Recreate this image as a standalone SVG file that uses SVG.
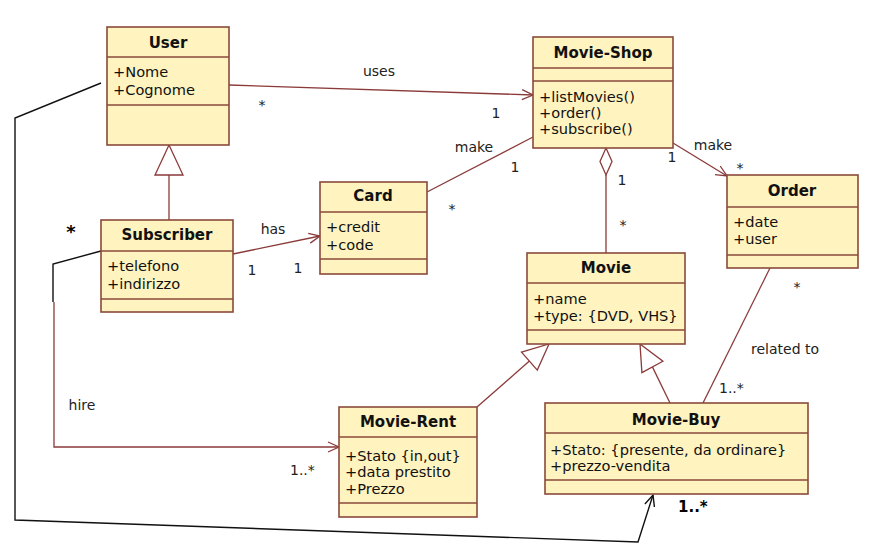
<svg xmlns="http://www.w3.org/2000/svg" width="879" height="544" viewBox="0 0 879 544">
<style>
.box{fill:#fff3c0;stroke:#8a4a3a;stroke-width:1.6}
.sep{stroke:#8a4a3a;stroke-width:1.6}
.title{font-family:"DejaVu Sans",sans-serif;font-weight:bold;font-size:15px;fill:#111;text-anchor:middle}
.attr{font-family:"DejaVu Sans",sans-serif;font-size:14.6px;fill:#111}
.lbl{font-family:"DejaVu Sans",sans-serif;font-size:14px;fill:#222}
.mid{text-anchor:middle}
.conn{fill:none;stroke:#8b3a3a;stroke-width:1.3}
.blk{fill:none;stroke:#111;stroke-width:1.4}
.hollow{fill:#fff;stroke:#8b3a3a;stroke-width:1.3}
</style>
<defs>
<marker id="open" markerUnits="userSpaceOnUse" markerWidth="14" markerHeight="12" refX="12" refY="6" orient="auto">
<path d="M1,1 L12,6 L1,11" fill="none" stroke="#8b3a3a" stroke-width="1.3"/>
</marker>
<marker id="openblk" markerUnits="userSpaceOnUse" markerWidth="14" markerHeight="12" refX="12" refY="6" orient="auto">
<path d="M1,1 L12,6 L1,11" fill="none" stroke="#111" stroke-width="1.4"/>
</marker>
</defs>
<rect width="879" height="544" fill="#fff"/>

<g id="connectors">
<path class="conn" d="M229,85 L533,95" marker-end="url(#open)"/>
<path class="conn" d="M427,192 L533,137"/>
<path class="conn" d="M673,143 L727,176" marker-end="url(#open)"/>
<path class="conn" d="M606,175 L606,253"/>
<path class="hollow" d="M606,148 L612,161.5 L606,175 L600,161.5 Z"/>
<path class="conn" d="M233,254 L320,236" marker-end="url(#open)"/>
<path class="conn" d="M169,220 L169,175"/>
<path class="hollow" d="M169,145 L183,175 L155,175 Z"/>
<path class="conn" d="M477,407 L529.4,361.1"/>
<path class="hollow" d="M549,344 L537.3,370.1 L521.5,352.1 Z"/>
<path class="conn" d="M670,403 L652.4,366.9"/>
<path class="hollow" d="M640,344 L662.9,361.2 L641.9,372.6 Z"/>
<path class="conn" d="M770,268 L703,403"/>
<path class="blk" d="M101,251 L53,264 L53,302"/>
<path class="conn" d="M54,302 L54,447 L339,447" marker-end="url(#open)"/>
<path class="blk" d="M101,83 L15,118 L15,520 L638,542 L653,495" marker-end="url(#openblk)"/>

<text class="lbl mid" x="379" y="76">uses</text>
<text class="lbl mid" x="262" y="110">*</text>
<text class="lbl mid" x="496" y="118">1</text>
<text class="lbl mid" x="474" y="152">make</text>
<text class="lbl mid" x="515" y="172">1</text>
<text class="lbl mid" x="452" y="214">*</text>
<text class="lbl mid" x="713" y="150">make</text>
<text class="lbl mid" x="672" y="162">1</text>
<text class="lbl mid" x="740" y="173">*</text>
<text class="lbl mid" x="622" y="185">1</text>
<text class="lbl mid" x="623" y="230">*</text>
<text class="lbl mid" x="273" y="234">has</text>
<text class="lbl mid" x="252" y="275">1</text>
<text class="lbl mid" x="298" y="273">1</text>
<text class="lbl mid" x="797" y="292">*</text>
<text class="lbl" x="751" y="354">related to</text>
<text class="lbl" x="719" y="393">1..*</text>
<text class="lbl mid" x="82" y="410">hire</text>
<text class="lbl" x="290" y="475">1..*</text>
<text x="71" y="238" font-family="DejaVu Sans, sans-serif" font-weight="bold" font-size="18" fill="#000" text-anchor="middle">*</text>
<text x="678" y="512" font-family="DejaVu Sans, sans-serif" font-weight="bold" font-size="15" fill="#000">1..*</text>
</g>

<g id="User">
<rect class="box" x="107" y="27" width="122" height="118"/>
<line class="sep" x1="107" y1="57" x2="229" y2="57"/>
<line class="sep" x1="107" y1="105" x2="229" y2="105"/>
<text class="title" x="168" y="48">User</text>
<text class="attr" x="113" y="77">+Nome</text>
<text class="attr" x="113" y="95">+Cognome</text>
</g>

<g id="Movie-Shop">
<rect class="box" x="533" y="37" width="140" height="111"/>
<line class="sep" x1="533" y1="68" x2="673" y2="68"/>
<line class="sep" x1="533" y1="81" x2="673" y2="81"/>
<text class="title" x="603" y="58">Movie-Shop</text>
<text class="attr" x="539" y="102">+listMovies()</text>
<text class="attr" x="539" y="118">+order()</text>
<text class="attr" x="539" y="134">+subscribe()</text>
</g>

<g id="Card">
<rect class="box" x="320" y="182" width="107" height="92"/>
<line class="sep" x1="320" y1="212" x2="427" y2="212"/>
<line class="sep" x1="320" y1="259" x2="427" y2="259"/>
<text class="title" x="373" y="201">Card</text>
<text class="attr" x="326" y="232">+credit</text>
<text class="attr" x="326" y="250">+code</text>
</g>

<g id="Subscriber">
<rect class="box" x="101" y="220" width="132" height="92"/>
<line class="sep" x1="101" y1="251" x2="233" y2="251"/>
<line class="sep" x1="101" y1="299" x2="233" y2="299"/>
<text class="title" x="167" y="240">Subscriber</text>
<text class="attr" x="107" y="271">+telefono</text>
<text class="attr" x="107" y="289">+indirizzo</text>
</g>

<g id="Order">
<rect class="box" x="727" y="175" width="131" height="93"/>
<line class="sep" x1="727" y1="207" x2="858" y2="207"/>
<line class="sep" x1="727" y1="255" x2="858" y2="255"/>
<text class="title" x="792" y="196">Order</text>
<text class="attr" x="733" y="227">+date</text>
<text class="attr" x="733" y="244">+user</text>
</g>

<g id="Movie">
<rect class="box" x="527" y="253" width="158" height="91"/>
<line class="sep" x1="527" y1="283" x2="685" y2="283"/>
<line class="sep" x1="527" y1="330" x2="685" y2="330"/>
<text class="title" x="606" y="273">Movie</text>
<text class="attr" x="533" y="304">+name</text>
<text class="attr" x="533" y="321">+type: {DVD, VHS}</text>
</g>

<g id="Movie-Rent">
<rect class="box" x="339" y="407" width="138" height="110"/>
<line class="sep" x1="339" y1="437" x2="477" y2="437"/>
<line class="sep" x1="339" y1="503" x2="477" y2="503"/>
<text class="title" x="408" y="427">Movie-Rent</text>
<text class="attr" x="345" y="461">+Stato {in,out}</text>
<text class="attr" x="345" y="477">+data prestito</text>
<text class="attr" x="345" y="494">+Prezzo</text>
</g>

<g id="Movie-Buy">
<rect class="box" x="545" y="403" width="263" height="91"/>
<line class="sep" x1="545" y1="433" x2="808" y2="433"/>
<line class="sep" x1="545" y1="480" x2="808" y2="480"/>
<text class="title" x="676" y="425">Movie-Buy</text>
<text class="attr" x="550" y="455">+Stato: {presente, da ordinare}</text>
<text class="attr" x="550" y="471">+prezzo-vendita</text>
</g>
</svg>
